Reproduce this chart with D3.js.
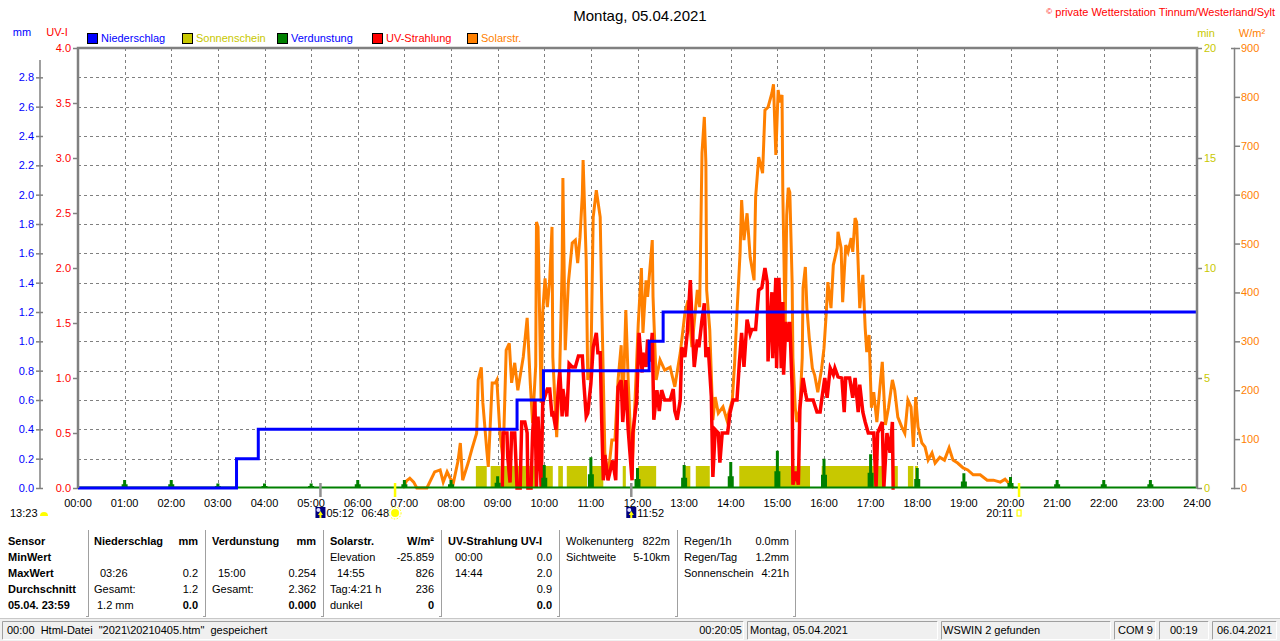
<!DOCTYPE html>
<html>
<head>
<meta charset="utf-8">
<script src="https://cdn.jsdelivr.net/npm/d3@7"></script>
<style>
  body { margin: 0; background: #fff; }
  svg { display: block; font-family: "Liberation Sans", Arial, sans-serif; }
</style>
</head>
<body>
<svg id="chart" width="1280" height="641"></svg>
<script>
// ---- data ----
const hourLabels = ["00:00","01:00","02:00","03:00","04:00","05:00","06:00","07:00","08:00","09:00","10:00","11:00","12:00",
  "13:00","14:00","15:00","16:00","17:00","18:00","19:00","20:00","21:00","22:00","23:00","24:00"];
const mmTicks = [0, 0.2, 0.4, 0.6, 0.8, 1.0, 1.2, 1.4, 1.6, 1.8, 2.0, 2.2, 2.4, 2.6, 2.8];
const uvTicks = [0, 0.5, 1.0, 1.5, 2.0, 2.5, 3.0, 3.5, 4.0];
const minTicks = [0, 5, 10, 15, 20];
const solTicks = [0, 100, 200, 300, 400, 500, 600, 700, 800, 900];

// Niederschlag (mm, cumulative)
const rain = [["00:00",0],["03:24",0.2],["03:52",0.4],["09:25",0.6],["09:59",0.8],["12:15",1.0],["12:33",1.2],["24:00",1.2]];

// Verdunstung (mm per hour)
const evapTimes = ["01:00","02:00","03:00","04:00","05:00","06:00","07:00","08:00","09:00","10:00","11:00","12:00",
  "13:00","14:00","15:00","16:00","17:00","18:00","19:00","20:00","21:00","22:00","23:00"];
const evapValues = [0.055,0.055,0.03,0.03,0.03,0.055,0.055,0.055,0.08,0.157,0.21,0.136,
  0.157,0.177,0.254,0.2,0.23,0.136,0.1,0.075,0.055,0.055,0.055];

// Sonnenschein (periods with 1 min/min)
const sunStart = ["08:32","08:51","09:07","09:58","10:18","10:29","10:59","11:41","12:01","13:01","13:15","14:11","15:57","17:29","17:48","17:57"];
const sunEnd   = ["08:46","09:04","09:51","10:11","10:24","10:55","11:16","11:45","12:24","13:08","13:33","15:42","17:17","17:35","17:55","18:01"];

// Solarstrahlung (W/m²)
const solar = [
  ["06:58",0],["07:03",15],["07:07",20],["07:12",12],["07:16",0],["07:29",0],["07:39",33],["07:46",37],["07:50",12],["07:55",33],
  ["07:59",20],["08:03",10],["08:09",55],["08:12",92],["08:15",16],["08:22",51],["08:27",80],["08:33",112],["08:35",221],["08:39",247],
  ["08:41",174],["08:46",78],["08:48",43],["08:53",215],["08:57",215],["08:59",221],["09:03",112],["09:07",57],["09:11",282],["09:15",296],
  ["09:18",215],["09:22",256],["09:26",200],["09:33",268],["09:38",348],["09:42",215],["09:45",133],["09:49",250],["09:50",544],["09:52",534],
  ["09:56",174],["09:58",358],["10:01",429],["10:04",370],["10:07",425],["10:10",534],["10:11",268],["10:16",104],["10:20",247],["10:23",450],
  ["10:24",634],["10:27",282],["10:31",419],["10:36",501],["10:40",507],["10:43",460],["10:46",513],["10:49",600],["10:50",671],["10:54",466],
  ["10:56",221],["11:00",247],["11:03",554],["11:07",609],["11:12",554],["11:14",378],["11:18",72],["11:22",22],["11:27",98],["11:31",98],
  ["11:35",221],["11:39",292],["11:41",153],["11:45",364],["11:48",221],["11:53",37],["11:57",186],["12:01",337],["12:05",450],["12:07",317],
  ["12:11",425],["12:13",391],["12:19",507],["12:20",391],["12:24",221],["12:29",262],["12:35",241],["12:42",247],["12:48",207],["12:55",276],
  ["13:01",358],["13:05",384],["13:10",288],["13:17",405],["13:20",370],["13:23",685],["13:26",759],["13:28",665],["13:29",405],["13:33",323],
  ["13:37",139],["13:40",186],["13:44",153],["13:50",166],["13:55",139],["14:02",180],["14:05",256],["14:08",358],["14:12",481],["14:14",589],
  ["14:17",507],["14:21",562],["14:25",472],["14:30",425],["14:32",595],["14:36",677],["14:41",644],["14:44",773],["14:48",779],["14:53",808],
  ["14:55",826],["14:58",681],["15:01",814],["15:03",789],["15:06",804],["15:07",605],["15:10",327],["15:12",558],["15:14",614],["15:16",605],
  ["15:19",421],["15:20",266],["15:23",164],["15:25",135],["15:29",164],["15:32",266],["15:33",409],["15:36",452],["15:38",368],["15:41",307],
  ["15:45",245],["15:48",231],["15:52",196],["15:57",245],["16:00",286],["16:03",360],["16:05",421],["16:09",368],["16:12",456],["16:17",491],
  ["16:18",524],["16:22",491],["16:24",380],["16:28",497],["16:31",483],["16:35",511],["16:37",483],["16:40",552],["16:42",544],["16:44",456],
  ["16:46",368],["16:50",436],["16:53",327],["16:55",278],["16:58",313],["17:01",164],["17:04",196],["17:08",135],["17:12",207],["17:15",258],
  ["17:19",129],["17:23",164],["17:28",221],["17:31",200],["17:35",145],["17:40",125],["17:44",112],["17:48",180],["17:52",166],["17:55",84],
  ["17:58",186],["18:01",125],["18:06",92],["18:10",84],["18:14",57],["18:19",72],["18:23",51],["18:29",63],["18:35",57],["18:41",82],
  ["18:46",57],["18:52",51],["18:59",41],["19:05",37],["19:12",27],["19:21",27],["19:30",16],["19:38",16],["19:47",12],["19:53",18],
  ["20:00",6],["20:04",0]
];

// UV-Strahlung (UV-I)
const uv = [
  ["09:06",0],["09:07",0.5],["09:12",0.5],["09:13",0.28],["09:16",0.05],["09:18",0.5],["09:22",0.5],["09:25",0],["09:29",0],["09:31",0.6],
  ["09:35",0.6],["09:38",0.5],["09:39",0],["09:43",0],["09:45",0.5],["09:48",0.8],["09:50",0],["09:52",0.65],["09:56",0],["09:58",0.77],
  ["10:04",0.9],["10:07",0.9],["10:10",0.65],["10:11",0.7],["10:15",0.53],["10:18",0.9],["10:20",1.07],["10:23",0.65],["10:24",0.9],["10:29",0.65],
  ["10:32",1.13],["10:36",1.1],["10:40",1.1],["10:44",1.2],["10:49",1.2],["10:51",0.95],["10:54",0.65],["10:56",0.68],["11:00",0.95],["11:03",1.28],
  ["11:07",1.41],["11:09",1.23],["11:12",1.23],["11:14",0.6],["11:16",0.07],["11:18",0.3],["11:22",0.07],["11:28",0.25],["11:32",0.07],["11:35",0.92],
  ["11:39",0.98],["11:41",0.6],["11:45",0.98],["11:48",0.53],["11:53",0.07],["11:54",0.5],["11:59",0.8],["12:02",1.41],["12:06",1.05],["12:07",1.23],
  ["12:11",1.1],["12:13",1.35],["12:16",1.15],["12:19",1.41],["12:21",0.62],["12:25",0.89],["12:28",0.7],["12:31",0.89],["12:35",0.8],["12:42",0.8],
  ["12:46",0.9],["12:48",0.7],["12:51",0.62],["12:55",0.8],["12:57",1.28],["13:01",1.19],["13:04",1.41],["13:08",1.89],["13:10",1.53],["13:13",1.1],
  ["13:17",1.35],["13:19",1.28],["13:23",1.53],["13:26",1.68],["13:28",1.19],["13:31",1.28],["13:35",0.83],["13:37",0.1],["13:40",0.53],["13:44",0.5],
  ["13:46",0.23],["13:49",0.5],["13:56",0.5],["13:59",0.68],["14:03",0.8],["14:08",0.8],["14:11",1.13],["14:14",1.41],["14:17",1.1],["14:21",1.53],
  ["14:25",1.4],["14:27",1.44],["14:32",1.44],["14:34",1.62],["14:36",1.8],["14:40",1.82],["14:44",2.0],["14:47",1.87],["14:48",1.15],["14:50",1.45],
  ["14:53",1.78],["14:54",1.18],["14:58",1.91],["14:59",1.09],["15:02",1.91],["15:05",1.09],["15:07",1.69],["15:08",1.03],["15:11",1.51],["15:14",1.33],
  ["15:16",1.51],["15:19",0.91],["15:20",0.03],["15:24",0.15],["15:27",0.03],["15:29",0.73],["15:33",1.0],["15:36",0.87],["15:38",0.8],["15:46",0.8],
  ["15:51",0.69],["15:55",0.69],["15:57",0.8],["16:01",1.0],["16:04",0.82],["16:08",1.09],["16:12",1.03],["16:14",1.09],["16:18",1.01],["16:23",1.0],
  ["16:26",0.69],["16:28",1.0],["16:33",1.0],["16:37",0.82],["16:40",1.0],["16:44",0.69],["16:46",0.94],["16:50",0.69],["16:53",0.6],["16:57",0.5],
  ["17:04",0.5],["17:07",0],["17:09",0.5],["17:15",0.6],["17:17",0],["17:21",0.5],["17:25",0.32],["17:28",0.6],["17:29",0],["17:31",0]
];

// ---- helpers ----
function tm(s) {
  const p = s.split(":");
  return +p[0] * 60 + +p[1];
}

const svg = d3.select("#chart");
const pL = 78, pR = 1197, pT = 48, pB = 488;

const x = d3.scaleLinear().domain([0, 1440]).range([pL, pR]);
const yMM = d3.scaleLinear().domain([0, 3]).range([pB, pT]);
const yUV = d3.scaleLinear().domain([0, 4]).range([pB, pT]);
const yMin = d3.scaleLinear().domain([0, 20]).range([pB, pT]);
const ySol = d3.scaleLinear().domain([0, 900]).range([pB, pT]);

const cBlue = "#0000ff", cYel = "#c8c800", cGreen = "#008000", cRed = "#ff0000", cOrange = "#ff8000", cGray = "#808080";

// title + copyright
svg.append("text").attr("x", 640).attr("y", 21).attr("text-anchor", "middle")
  .style("font-size", "15px").text("Montag, 05.04.2021");
svg.append("text").attr("x", 1275).attr("y", 16).attr("text-anchor", "end")
  .style("font-size", "11px").attr("fill", cRed)
  .html('<tspan style="font-size:8px" dy="-2">©</tspan><tspan dy="2"> private Wetterstation Tinnum/Westerland/Sylt</tspan>');

// axis unit labels
svg.append("text").attr("x", 22).attr("y", 36).attr("text-anchor", "middle").style("font-size", "11px").attr("fill", cBlue).text("mm");
svg.append("text").attr("x", 57).attr("y", 36).attr("text-anchor", "middle").style("font-size", "11px").attr("fill", cRed).text("UV-I");
svg.append("text").attr("x", 1206).attr("y", 37).attr("text-anchor", "middle").style("font-size", "11px").attr("fill", cYel).text("min");
svg.append("text").attr("x", 1252).attr("y", 37).attr("text-anchor", "middle").style("font-size", "11px").attr("fill", cOrange).text("W/m²");

// legend
const legend = [
  { name: "Niederschlag", color: cBlue, text: cBlue, x: 87 },
  { name: "Sonnenschein", color: cYel, text: cYel, x: 182 },
  { name: "Verdunstung", color: cGreen, text: cBlue, x: 277 },
  { name: "UV-Strahlung", color: cRed, text: cRed, x: 372 },
  { name: "Solarstr.", color: cOrange, text: cOrange, x: 467 }
];
const lg = svg.append("g").selectAll("g").data(legend).enter().append("g");
lg.append("rect").attr("x", d => d.x + 0.5).attr("y", 33.5).attr("width", 10).attr("height", 10)
  .attr("fill", d => d.color).attr("stroke", "#000");
lg.append("text").attr("x", d => d.x + 14).attr("y", 42).style("font-size", "11px")
  .attr("fill", d => d.text).text(d => d.name);

// grid
const grid = svg.append("g").attr("stroke", cGray).attr("stroke-dasharray", "3,3").attr("stroke-width", 1);
grid.selectAll(".h").data(mmTicks.slice(1)).enter().append("line")
  .attr("x1", pL).attr("x2", pR).attr("y1", d => Math.round(yMM(d)) + 0.5).attr("y2", d => Math.round(yMM(d)) + 0.5);
grid.selectAll(".v").data(d3.range(1, 24)).enter().append("line")
  .attr("y1", pT).attr("y2", pB).attr("x1", d => Math.round(x(d * 60)) + 0.5).attr("x2", d => Math.round(x(d * 60)) + 0.5);

// sunshine bars
svg.append("g").selectAll("rect").data(sunStart).enter().append("rect")
  .attr("x", d => x(tm(d)))
  .attr("width", (d, i) => x(tm(sunEnd[i])) - x(tm(d)))
  .attr("y", yMin(1)).attr("height", yMin(0) - yMin(1))
  .attr("fill", cYel);

// solar
const solLine = d3.line().x(d => x(tm(d[0]))).y(d => ySol(d[1]));
svg.append("path").datum(solar).attr("d", solLine).attr("fill", "none")
  .attr("stroke", cOrange).attr("stroke-width", 3);

// uv
const uvLine = d3.line().x(d => x(tm(d[0]))).y(d => yUV(d[1]));
svg.append("path").datum(uv).attr("d", uvLine).attr("fill", "none")
  .attr("stroke", cRed).attr("stroke-width", 3.5);

// evaporation spikes + zero line
svg.append("line").attr("x1", pL).attr("x2", pR).attr("y1", pB - 0.5).attr("y2", pB - 0.5)
  .attr("stroke", cGreen).attr("stroke-width", 2);
svg.append("g").selectAll("path").data(evapTimes).enter().append("path")
  .attr("fill", cGreen)
  .attr("d", (d, i) => {
    const cx = x(tm(d)), y0 = yMM(0), y1 = yMM(evapValues[i]), ym = yMM(evapValues[i] * 0.45);
    return `M${cx - 3},${y0}L${cx - 3},${ym}L${cx - 1.5},${ym}L${cx - 1.5},${y1}L${cx + 1.5},${y1}L${cx + 1.5},${ym}L${cx + 3},${ym}L${cx + 3},${y0}Z`;
  });

// rain
const rainLine = d3.line().curve(d3.curveStepAfter).x(d => x(tm(d[0]))).y(d => yMM(d[1]));
svg.append("path").datum(rain).attr("d", rainLine).attr("fill", "none")
  .attr("stroke", cBlue).attr("stroke-width", 3);

// frame
svg.append("path").attr("d", `M${pL},${pB}V${pT}H${pR}V${pB}`)
  .attr("fill", "none").attr("stroke", cGray).attr("stroke-width", 2.5);

// axes
function styleAxis(g, color) {
  g.selectAll(".tick line").attr("stroke", cGray).attr("stroke-width", 1.5);
  g.selectAll(".tick text").attr("fill", color).style("font-size", "11px").style("font-family", "Liberation Sans, Arial, sans-serif");
}
const axMM = svg.append("g").attr("transform", "translate(43,0)")
  .call(d3.axisLeft(yMM).tickValues(mmTicks).tickFormat(d3.format(".1f")).tickSize(7).tickPadding(2));
axMM.select(".domain").remove();
styleAxis(axMM, cBlue);
svg.append("line").attr("x1", 40).attr("x2", 40).attr("y1", pT + 12).attr("y2", pB)
  .attr("stroke", cGray).attr("stroke-width", 1.5);

const axUV = svg.append("g").attr("transform", `translate(${pL},0)`)
  .call(d3.axisLeft(yUV).tickValues(uvTicks).tickFormat(d3.format(".1f")).tickSize(5).tickPadding(2));
axUV.select(".domain").remove();
styleAxis(axUV, cRed);

const axMin = svg.append("g").attr("transform", `translate(${pR},0)`)
  .call(d3.axisRight(yMin).tickValues(minTicks).tickSize(5).tickPadding(2));
axMin.select(".domain").remove();
styleAxis(axMin, cYel);

const axSol = svg.append("g").attr("transform", "translate(1234,0)")
  .call(d3.axisRight(ySol).tickValues(solTicks).tickSize(6).tickSizeOuter(-3).tickPadding(1));
axSol.select(".domain").attr("stroke", cGray).attr("stroke-width", 1.5);
styleAxis(axSol, cOrange);

// x axis labels
svg.append("g").selectAll("text").data(hourLabels).enter().append("text")
  .attr("x", (d, i) => x(i * 60)).attr("y", 507).attr("text-anchor", "middle")
  .style("font-size", "11px").text(d => d);

// sun / moon markers
const markers = [
  { t: "05:12", color: "#909090", kind: "moon", label: "05:12", side: "right" },
  { t: "06:48", color: "#ffff00", kind: "sun", label: "06:48", side: "left" },
  { t: "11:52", color: "#909090", kind: "moon", label: "11:52", side: "right" },
  { t: "20:11", color: "#ffff00", kind: "set", label: "20:11", side: "left" }
];
const mk = svg.append("g").selectAll("g").data(markers).enter().append("g")
  .attr("transform", d => `translate(${x(tm(d.t))},0)`);
mk.append("line").attr("y1", 483).attr("y2", 497).attr("stroke", d => d.color).attr("stroke-width", 2.5);
mk.filter(d => d.kind === "moon").append("rect").attr("x", -5).attr("y", 507).attr("width", 10).attr("height", 11).attr("fill", "#000080");
mk.filter(d => d.kind === "moon").append("circle").attr("cx", -2).attr("cy", 510).attr("r", 2).attr("fill", "#e0e0ff");
mk.filter(d => d.kind === "moon").append("path").attr("d", "M0,511L2.5,515H1V518H-1V515H-2.5Z").attr("fill", "#ffff00");
mk.filter(d => d.kind === "sun").append("circle").attr("cx", 0).attr("cy", 513).attr("r", 4).attr("fill", "#ffff00");
mk.filter(d => d.kind === "sun").append("circle").attr("cx", 0).attr("cy", 513).attr("r", 6)
  .attr("fill", "none").attr("stroke", "#ffff00").attr("stroke-dasharray", "1.5,1.5");
mk.filter(d => d.kind === "set").append("rect").attr("x", -2).attr("y", 510).attr("width", 4).attr("height", 6)
  .attr("fill", "none").attr("stroke", "#ffff00").attr("stroke-width", 1.2);
mk.append("text").attr("x", d => d.side === "right" ? 6 : -6).attr("y", 517)
  .attr("text-anchor", d => d.side === "right" ? "start" : "end")
  .style("font-size", "11px").text(d => d.label);

svg.append("text").attr("x", 10).attr("y", 517).style("font-size", "11px").text("13:23");
svg.append("path").attr("d", "M40,516A4,4 0 0 1 48,516Z").attr("fill", "#ffff00");

// table
const colLines = [88, 205, 323, 441, 559, 677, 795];
svg.append("g").selectAll("g").data(colLines).enter().append("g").call(g => {
  g.append("line").attr("x1", d => d + 0.5).attr("x2", d => d + 0.5).attr("y1", 530).attr("y2", 617).attr("stroke", "#a0a0a0");
  g.append("line").attr("x1", d => d - 2).attr("x2", d => d + 0.5).attr("y1", 616.5).attr("y2", 616.5).attr("stroke", "#a0a0a0");
});
const rowY = [545, 561, 577, 593, 609];
const cells = [
  // [text, x, row, anchor, bold]
  ["Sensor", 8, 0, "start", 1], ["MinWert", 8, 1, "start", 1], ["MaxWert", 8, 2, "start", 1],
  ["Durchschnitt", 8, 3, "start", 1], ["05.04. 23:59", 8, 4, "start", 1],
  ["Niederschlag", 94, 0, "start", 1], ["mm", 198, 0, "end", 1],
  ["03:26", 100, 2, "start", 0], ["0.2", 198, 2, "end", 0],
  ["Gesamt:", 94, 3, "start", 0], ["1.2", 198, 3, "end", 0],
  ["1.2 mm", 97, 4, "start", 0], ["0.0", 198, 4, "end", 1],
  ["Verdunstung", 212, 0, "start", 1], ["mm", 316, 0, "end", 1],
  ["15:00", 218, 2, "start", 0], ["0.254", 316, 2, "end", 0],
  ["Gesamt:", 212, 3, "start", 0], ["2.362", 316, 3, "end", 0],
  ["0.000", 316, 4, "end", 1],
  ["Solarstr.", 330, 0, "start", 1], ["W/m²", 434, 0, "end", 1],
  ["Elevation", 330, 1, "start", 0], ["-25.859", 434, 1, "end", 0],
  ["14:55", 337, 2, "start", 0], ["826", 434, 2, "end", 0],
  ["Tag:4:21 h", 330, 3, "start", 0], ["236", 434, 3, "end", 0],
  ["dunkel", 330, 4, "start", 0], ["0", 434, 4, "end", 1],
  ["UV-Strahlung UV-I", 448, 0, "start", 1],
  ["00:00", 455, 1, "start", 0], ["0.0", 552, 1, "end", 0],
  ["14:44", 455, 2, "start", 0], ["2.0", 552, 2, "end", 0],
  ["0.9", 552, 3, "end", 0], ["0.0", 552, 4, "end", 1],
  ["Wolkenunterg", 566, 0, "start", 0], ["822m", 670, 0, "end", 0],
  ["Sichtweite", 566, 1, "start", 0], ["5-10km", 670, 1, "end", 0],
  ["Regen/1h", 684, 0, "start", 0], ["0.0mm", 789, 0, "end", 0],
  ["Regen/Tag", 684, 1, "start", 0], ["1.2mm", 789, 1, "end", 0],
  ["Sonnenschein", 684, 2, "start", 0], ["4:21h", 789, 2, "end", 0]
];
svg.append("g").selectAll("text").data(cells).enter().append("text")
  .attr("x", d => d[1]).attr("y", d => rowY[d[2]]).attr("text-anchor", d => d[3])
  .style("font-size", "11px").style("font-weight", d => d[4] ? "bold" : "normal").text(d => d[0]);

// status bar
svg.append("line").attr("x1", 0).attr("x2", 1280).attr("y1", 618.5).attr("y2", 618.5).attr("stroke", "#c8c8c8");
svg.append("rect").attr("x", 0).attr("y", 619).attr("width", 1280).attr("height", 22).attr("fill", "#f0f0f0");
const panels = [[2, 744], [747, 938], [941, 1111], [1114, 1156], [1159, 1209], [1212, 1277]];
svg.append("g").selectAll("path").data(panels).enter().append("path")
  .attr("d", d => `M${d[0] + 0.5},639.5V621.5H${d[1] - 0.5}`).attr("fill", "none").attr("stroke", "#a0a0a0");
svg.append("g").selectAll("path").data(panels).enter().append("path")
  .attr("d", d => `M${d[1] - 0.5},621.5V639.5H${d[0] + 0.5}`).attr("fill", "none").attr("stroke", "#ffffff");
const status = [
  ["00:00  Html-Datei  \"2021\\20210405.htm\"  gespeichert", 7, "start"],
  ["00:20:05", 742, "end"],
  ["Montag, 05.04.2021", 750, "start"],
  ["WSWIN 2 gefunden", 943, "start"],
  ["COM 9", 1118, "start"],
  ["00:19", 1170, "start"],
  ["06.04.2021", 1217, "start"]
];
svg.append("g").selectAll("text").data(status).enter().append("text")
  .attr("x", d => d[1]).attr("y", 634).attr("text-anchor", d => d[2])
  .style("font-size", "11px").style("white-space", "pre").attr("xml:space", "preserve").text(d => d[0]);
</script>
</body>
</html>
